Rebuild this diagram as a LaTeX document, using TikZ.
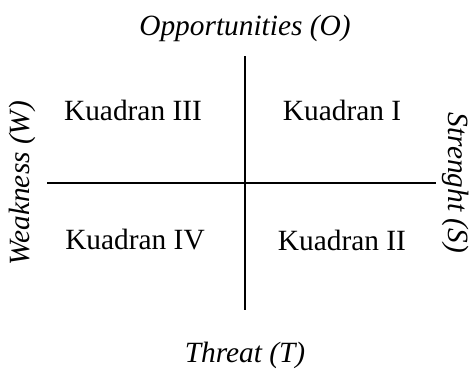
\documentclass[tikz,border=0pt]{standalone}
\usepackage{fontspec}
\setmainfont{Liberation Serif}
\usetikzlibrary{positioning}

\tikzset{
    axis/.style={line width=0.8pt},
    side/.style={font=\fontsize{11.75}{14}\selectfont\itshape},
    quad/.style={font=\fontsize{11.75}{14}\selectfont}
}

\begin{document}
\begin{tikzpicture}[x=0.4pt, y=-0.4pt]
    \useasboundingbox (0, 0) rectangle (473, 382);

    % the two axes
    \draw[axis] (47, 183) -- (436, 183);
    \draw[axis] (245, 56) -- (245, 310);

    % side labels
    \node[side] (opp) at (245, 28) {Opportunities (O)};
    \node[side] (thr) at (245, 355) {Threat (T)};
    \node[side, rotate=90] (weak) at (22, 183) {Weakness (W)};
    \node[side, rotate=-90] (str) at (456, 183) {Strenght (S)};

    % quadrants
    \node[quad] (q3) at (133, 110) {Kuadran III};
    \node[quad] (q1) at (342, 110) {Kuadran I};
    \node[quad] (q4) at (135, 240) {Kuadran IV};
    \node[quad] (q2) at (342, 240) {Kuadran II};
\end{tikzpicture}
\end{document}
